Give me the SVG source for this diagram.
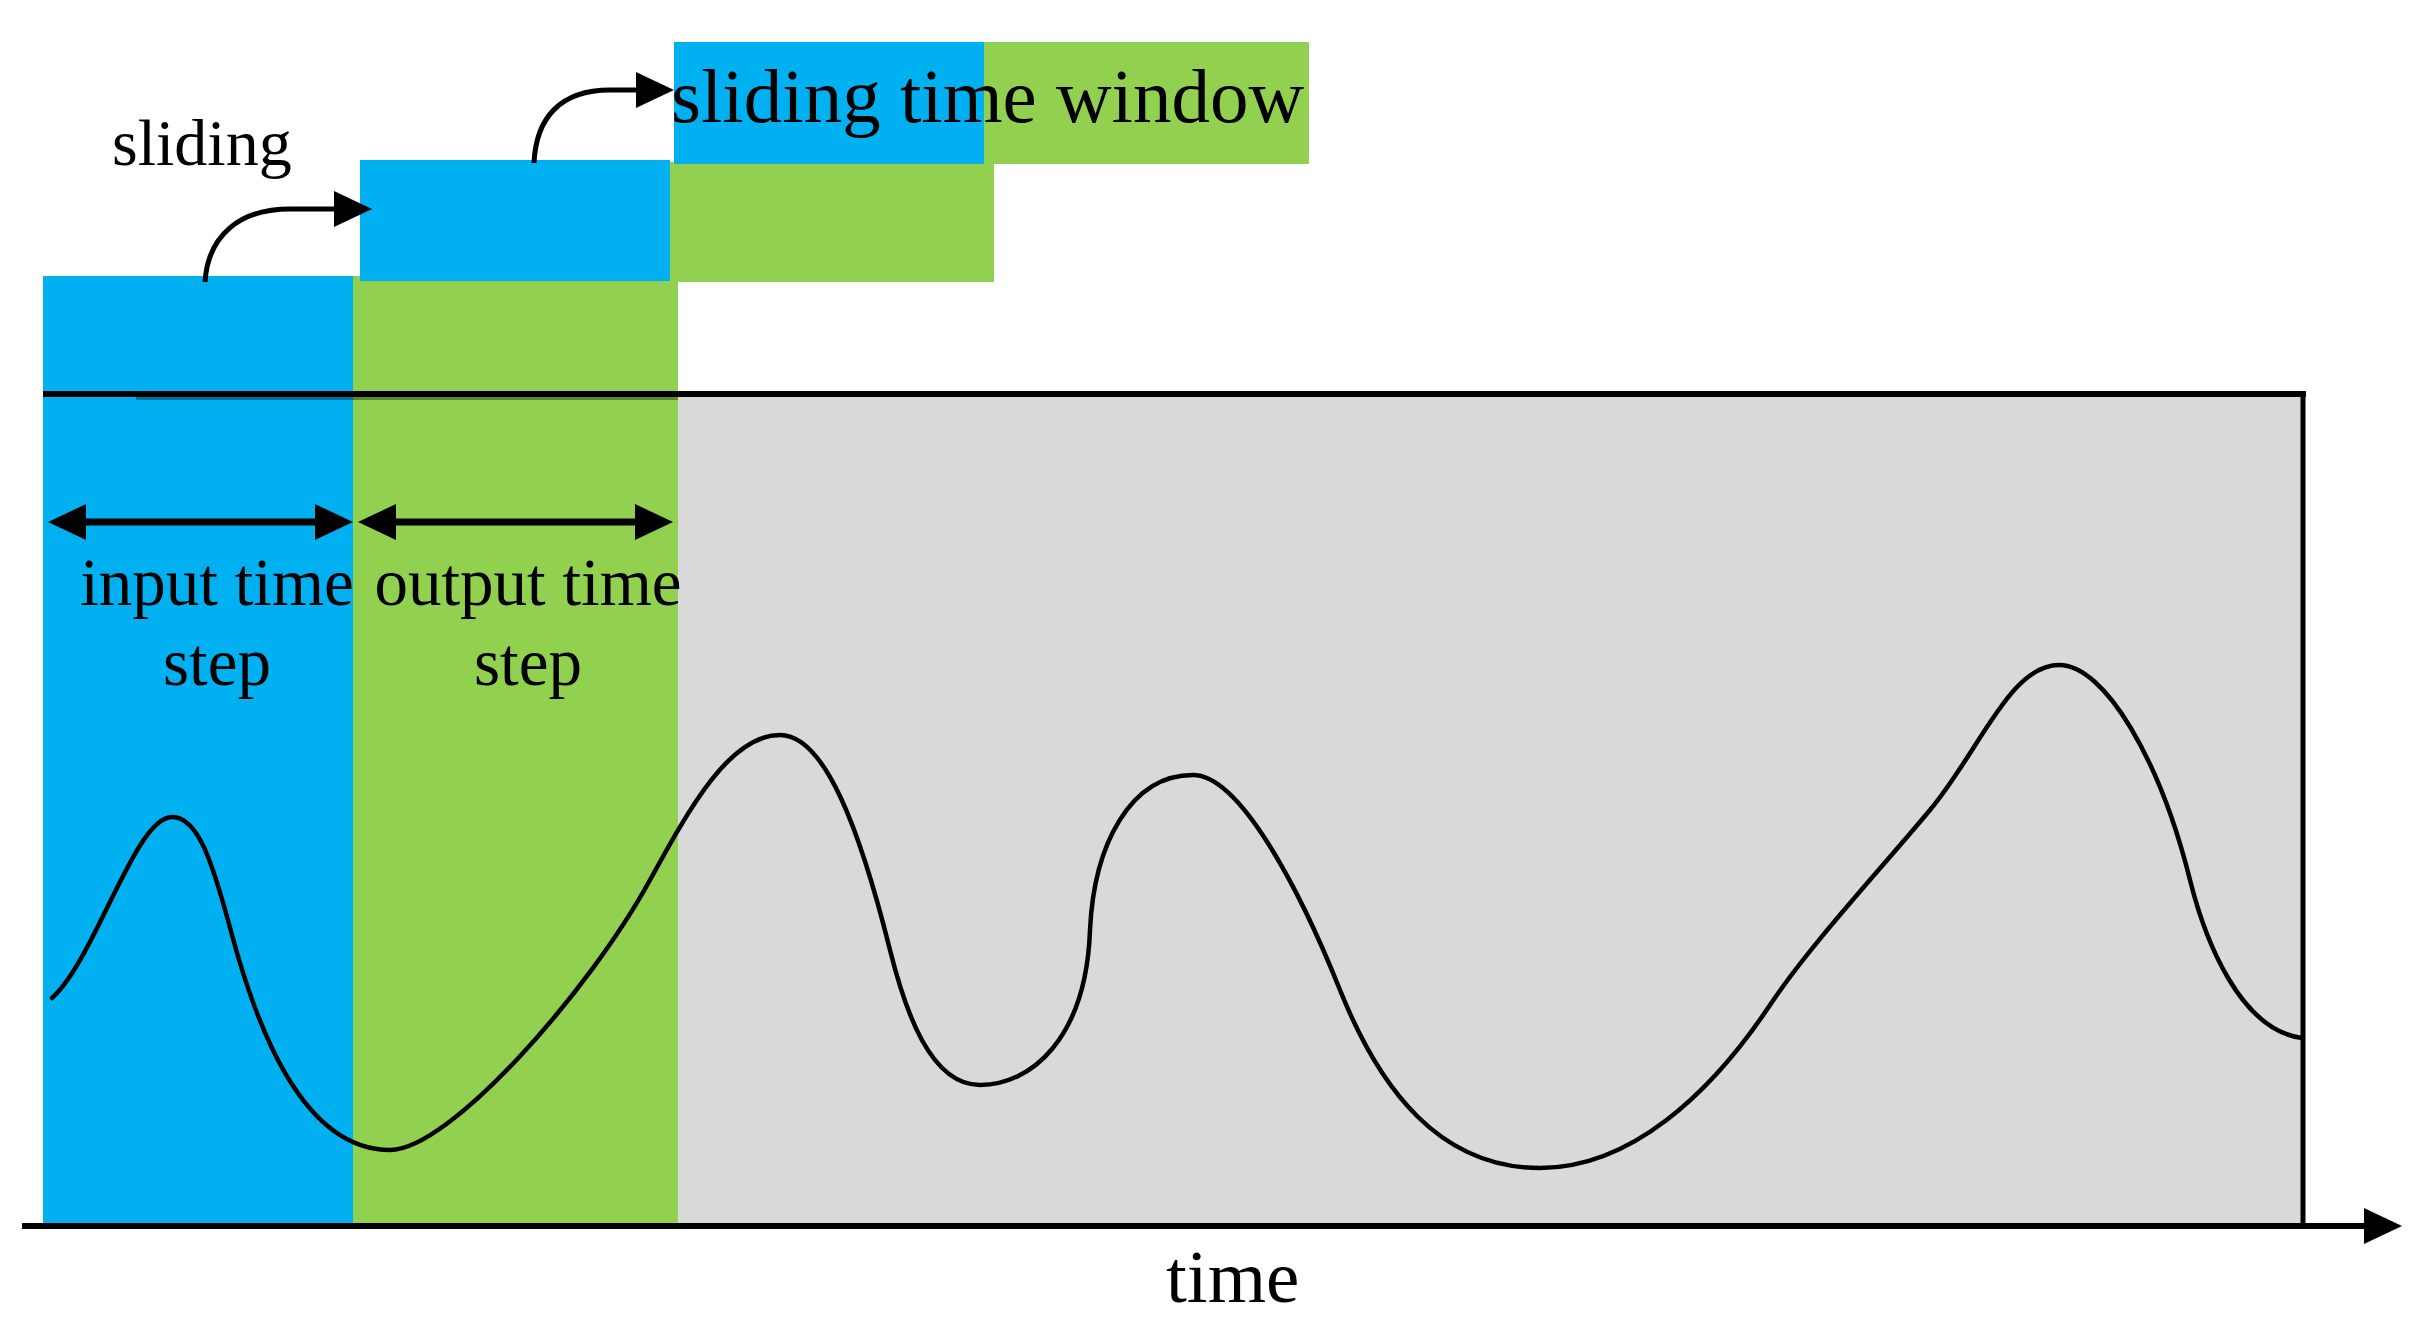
<svg xmlns="http://www.w3.org/2000/svg" width="2431" height="1336" viewBox="0 0 2431 1336">
<style>
.blue{fill:#00B0F0}
.green{fill:#92D050}
.gray{fill:#D9D9D9}
.ln{stroke:#000;fill:none}
.t{font-family:"Liberation Serif","Times New Roman",serif;fill:#000}
</style>
<defs>
<marker id="ah" markerUnits="userSpaceOnUse" markerWidth="40" markerHeight="40" refX="0" refY="18" orient="auto-start-reverse" viewBox="0 0 40 40">
<path d="M0,0 L38,18 L0,36 Z" fill="#000"/>
</marker>
</defs>
<rect width="2431" height="1336" fill="#fff"/>
<g id="timeline">
<rect class="gray" x="678" y="394" width="1625" height="831"/>
</g>
<g id="window1">
<rect class="blue" x="43" y="276" width="310" height="949"/>
<rect class="green" x="353" y="276" width="325" height="949"/>
</g>
<g id="window2">
<rect class="blue" x="360" y="160" width="310" height="121"/>
<rect class="green" x="670" y="162" width="324" height="120"/>
</g>
<g id="window3">
<rect class="blue" x="674" y="42" width="310" height="122"/>
<rect class="green" x="984" y="42" width="325" height="122"/>
<text class="t" x="671" y="122" font-size="77">sliding time window</text>
</g>
<g id="frame">
<line class="ln" x1="43" y1="394" x2="2306" y2="394" stroke-width="6"/>
<line class="ln" x1="136" y1="398.5" x2="678" y2="398.5" stroke-width="3" stroke-opacity="0.35"/>
<line class="ln" x1="2303" y1="391" x2="2303" y2="1225" stroke-width="5"/>
</g>
<g id="series">
<path class="ln" stroke-width="4.5" stroke-linecap="round" d="M52 998 C95 960 135 817 172 817 C198 817 212 860 232 935 C255 1020 300 1150 390 1150 C450 1150 590 990 650 880 C690 807 730 735 780 735 C825 735 860 830 890 950 C905 1010 930 1085 980 1085 C1030 1085 1086 1040 1090 930 C1094 845 1130 775 1193 775 C1240 775 1300 890 1340 990 C1380 1090 1440 1168 1540 1168 C1630 1168 1710 1095 1770 1005 C1810 945 1880 870 1930 810 C1980 750 2010 665 2059 665 C2105 665 2160 760 2190 880 C2205 940 2240 1030 2302 1038"/>
</g>
<g id="labels">
<text class="t" x="112" y="165" font-size="66">sliding</text>
<text class="t" x="217" y="605" font-size="67" text-anchor="middle">input time</text>
<text class="t" x="217" y="685" font-size="67" text-anchor="middle">step</text>
<text class="t" x="528" y="605" font-size="67" text-anchor="middle">output time</text>
<text class="t" x="528" y="685" font-size="67" text-anchor="middle">step</text>
<text class="t" x="1166" y="1302" font-size="75">time</text>
</g>
<g id="connectors">
<path class="ln" stroke-width="5" d="M205 282 C208 235 240 209 290 209 L334 209" marker-end="url(#ah)"/>
<path class="ln" stroke-width="5" d="M534 163 C536 118 560 90 610 90 L636 90" marker-end="url(#ah)"/>
<line class="ln" x1="86" y1="522" x2="315" y2="522" stroke-width="7" marker-start="url(#ah)" marker-end="url(#ah)"/>
<line class="ln" x1="396" y1="522" x2="635" y2="522" stroke-width="7" marker-start="url(#ah)" marker-end="url(#ah)"/>
<line class="ln" x1="22" y1="1226" x2="2364" y2="1226" stroke-width="6" marker-end="url(#ah)"/>
</g>
</svg>
